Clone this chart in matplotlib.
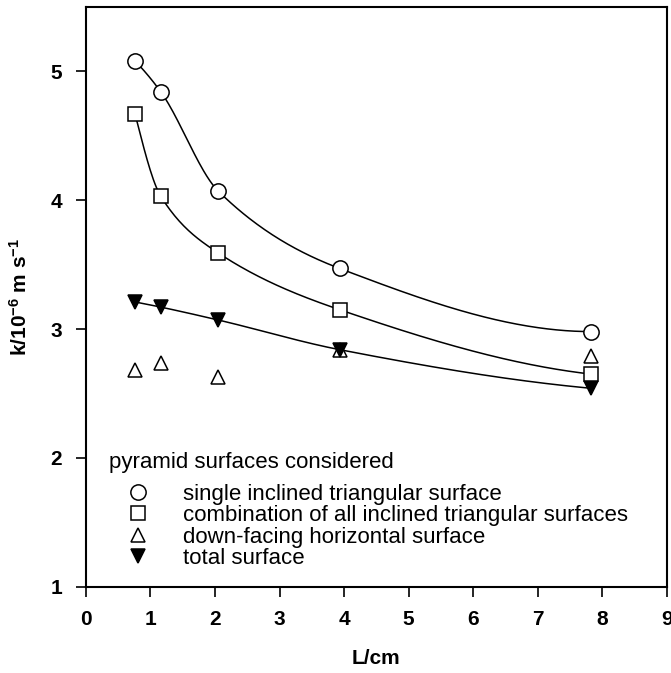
import numpy as np
import matplotlib.pyplot as plt
from matplotlib.lines import Line2D

plt.rcParams["font.family"] = ["Liberation Sans", "DejaVu Sans"]
plt.rcParams["mathtext.fontset"] = "custom"
plt.rcParams["mathtext.rm"] = "Liberation Sans"
plt.rcParams["mathtext.it"] = "Liberation Sans"
plt.rcParams["mathtext.bf"] = "Liberation Sans:bold"

# pyramid size and measured transfer coefficients
L_cm = [0.76, 1.16, 2.05, 3.93, 7.83]
k_single = [5.08, 4.84, 4.07, 3.47, 2.98]
k_combined = [4.67, 4.03, 3.59, 3.15, 2.65]
k_down = [2.68, 2.74, 2.63, 2.84, 2.79]
k_total = [3.21, 3.17, 3.07, 2.84, 2.54]

labels = [
    "single inclined triangular surface",
    "combination of all inclined triangular surfaces",
    "down-facing horizontal surface",
    "total surface",
]


# monotone cubic (PCHIP) curve through the points
def pchip(x, y, xs):
    x = np.asarray(x, float)
    y = np.asarray(y, float)
    h = np.diff(x)
    d = np.diff(y) / h
    m = np.zeros_like(y)
    for k in range(1, len(x) - 1):
        if d[k - 1] * d[k] > 0:
            w1 = 2 * h[k] + h[k - 1]
            w2 = h[k] + 2 * h[k - 1]
            m[k] = (w1 + w2) / (w1 / d[k - 1] + w2 / d[k])
    m[0] = ((2 * h[0] + h[1]) * d[0] - h[0] * d[1]) / (h[0] + h[1])
    if np.sign(m[0]) != np.sign(d[0]):
        m[0] = 0
    m[-1] = ((2 * h[-1] + h[-2]) * d[-1] - h[-1] * d[-2]) / (h[-1] + h[-2])
    if np.sign(m[-1]) != np.sign(d[-1]):
        m[-1] = 0
    idx = np.clip(np.searchsorted(x, xs) - 1, 0, len(x) - 2)
    t = (xs - x[idx]) / h[idx]
    h00 = 2 * t**3 - 3 * t**2 + 1
    h10 = t**3 - 2 * t**2 + t
    h01 = -2 * t**3 + 3 * t**2
    h11 = t**3 - t**2
    return (h00 * y[idx] + h10 * h[idx] * m[idx]
            + h01 * y[idx + 1] + h11 * h[idx] * m[idx + 1])


fig = plt.figure(figsize=(6.71, 6.73), dpi=100)
ax = fig.add_axes([0.128, 0.128, 0.866, 0.862])

xs = np.linspace(L_cm[0], L_cm[-1], 300)
for series in (k_single, k_combined, k_total):
    ax.plot(xs, pchip(L_cm, series, xs), color="black", lw=1.1, zorder=2)

ax.plot(L_cm, k_down, ls="none", marker="^", ms=10, mfc="white", mec="black",
        mew=1.1, zorder=3)
ax.plot(L_cm, k_total, ls="none", marker="v", ms=10, mfc="black", mec="black",
        mew=1.1, zorder=4)
ax.plot(L_cm, k_combined, ls="none", marker="s", ms=10, mfc="white", mec="black",
        mew=1.1, zorder=4)
ax.plot(L_cm, k_single, ls="none", marker="o", ms=11, mfc="white", mec="black",
        mew=1.1, zorder=4)

ax.set_xlim(0, 9)
ax.set_ylim(1, 5.5)
ax.set_xticks(range(0, 10))
ax.set_yticks([1, 2, 3, 4, 5])
ax.tick_params(direction="out", length=7, width=1.2, labelsize=15, pad=10)
for lab in ax.get_xticklabels() + ax.get_yticklabels():
    lab.set_fontweight("bold")
for sp in ax.spines.values():
    sp.set_linewidth(1.5)

ax.set_xlabel("L/cm", fontsize=15, fontweight="bold", labelpad=14)
ax.set_ylabel(r"k/10$^{\mathbf{-6}}$ m s$^{\mathbf{-1}}$", fontsize=15,
              fontweight="bold", labelpad=14)

styles = [("o", "white", 11), ("s", "white", 9.5), ("^", "white", 9.5), ("v", "black", 9.5)]
handles = [Line2D([], [], ls="none", marker=mk, mfc=fc, mec="black", ms=ms, mew=1.1)
           for mk, fc, ms in styles]
leg = ax.legend(handles, labels, title="pyramid surfaces considered",
                loc="lower left", bbox_to_anchor=(0.01, 0.0), frameon=False,
                fontsize=16, title_fontsize=16, alignment="left",
                handlelength=2.6, handletextpad=0.7, labelspacing=0.02,
                borderpad=0.3)
# a little more room between the title and the entries
leg._legend_box.sep = 8

fig.savefig("out.png", dpi=100)
